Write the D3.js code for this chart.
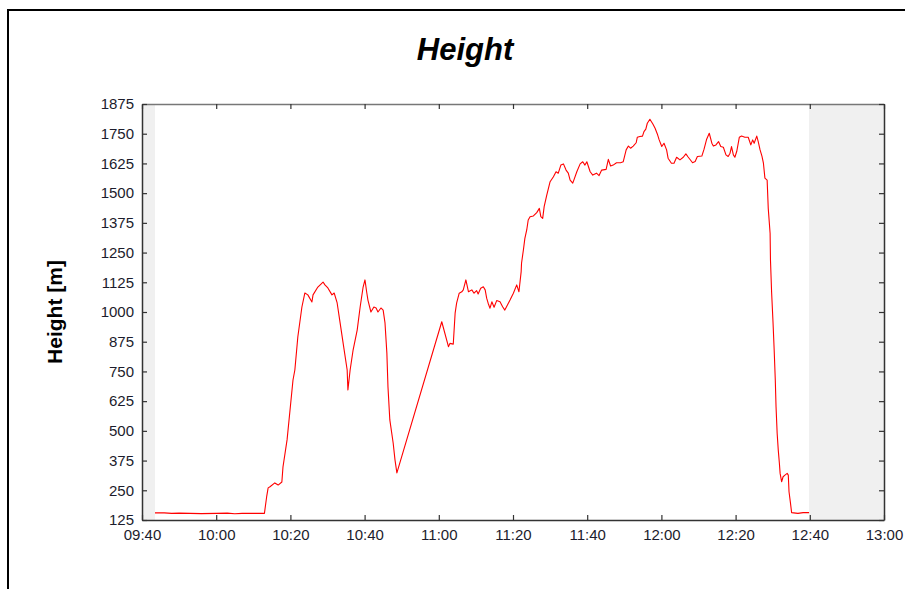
<!DOCTYPE html>
<html>
<head>
<meta charset="utf-8">
<script src="https://cdn.jsdelivr.net/npm/d3@7"></script>
<style>
  html, body { margin: 0; padding: 0; background: #fff; }
  svg { display: block; font-family: "Liberation Sans", Arial, sans-serif; }
</style>
</head>
<body>
<svg id="chart" width="905" height="589"></svg>
<script>
// Recorded altitude track: clock time and height in metres
const times = [
  "09:43:30","09:46:00","09:48:00","09:50:00","09:53:00","09:56:00","10:00:00","10:03:00","10:05:00","10:07:00",
  "10:10:00","10:13:00","10:13:36","10:14:00","10:14:30","10:15:48","10:16:42","10:17:42","10:18:00","10:19:06",
  "10:19:54","10:20:42","10:21:12","10:22:00","10:23:06","10:23:54","10:24:42","10:25:48","10:26:06","10:27:24",
  "10:28:48","10:29:18","10:30:06","10:31:12","10:31:48","10:32:36","10:33:24","10:34:12","10:35:18","10:35:30",
  "10:36:06","10:36:54","10:38:00","10:38:48","10:39:36","10:40:06","10:40:36","10:40:54","10:41:42","10:42:30",
  "10:43:06","10:43:36","10:44:24","10:45:00","10:45:30","10:46:00","10:46:18","10:46:48","10:47:42","10:48:12",
  "10:48:42","11:00:48","11:02:36","11:03:00","11:03:54","11:04:24","11:04:48","11:05:30","11:06:12","11:06:36",
  "11:07:18","11:08:00","11:08:54","11:09:30","11:10:12","11:10:36","11:11:18","11:12:00","11:12:30","11:12:54",
  "11:13:18","11:13:48","11:14:18","11:14:54","11:15:36","11:16:30","11:17:12","11:17:48","11:18:30","11:19:12",
  "11:20:06","11:21:00","11:21:36","11:22:12","11:22:18","11:22:48","11:23:12","11:23:42","11:24:06","11:24:36",
  "11:25:30","11:26:24","11:27:06","11:27:30","11:28:00","11:28:24","11:29:06","11:30:00","11:30:54","11:31:36",
  "11:32:12","11:32:54","11:33:36","11:34:18","11:34:54","11:35:24","11:36:06","11:36:24","11:37:12","11:38:06",
  "11:38:48","11:39:24","11:39:54","11:40:48","11:41:30","11:42:30","11:43:12","11:43:54","11:45:06","11:45:42",
  "11:46:18","11:47:00","11:47:54","11:49:00","11:49:42","11:50:30","11:51:06","11:51:42","11:52:24","11:53:12",
  "11:53:30","11:54:12","11:54:54","11:55:18","11:55:48","11:56:12","11:56:54","11:57:42","11:58:18","11:58:54",
  "11:59:24","12:00:06","12:00:42","12:01:24","12:01:48","12:02:42","12:03:24","12:04:06","12:05:00","12:05:54",
  "12:06:36","12:07:12","12:08:24","12:09:06","12:09:42","12:10:54","12:11:30","12:12:12","12:12:54","12:13:36",
  "12:14:00","12:14:42","12:15:24","12:16:00","12:16:42","12:17:24","12:18:00","12:18:30","12:18:54","12:19:24",
  "12:19:48","12:20:18","12:21:00","12:21:36","12:22:30","12:23:24","12:24:06","12:24:36","12:25:00","12:25:42",
  "12:26:06","12:26:36","12:27:06","12:27:30","12:27:54","12:28:30","12:28:48","12:29:18","12:29:24","12:29:42",
  "12:30:06","12:30:24","12:30:42","12:30:54","12:31:12","12:31:30","12:31:48","12:32:00","12:32:24","12:32:48",
  "12:33:18","12:33:54","12:34:12","12:34:24","12:34:48","12:35:06","12:36:48","12:38:12","12:39:48"
];
const heights = [
  155,155,153,154,153,152,153,154,151,153,
  153,153,223,260,265,281,272,285,348,462,
  588,714,756,895,1021,1080,1072,1042,1072,1105,
  1126,1114,1101,1072,1080,1038,954,870,756,672,
  756,840,924,1021,1105,1135,1080,1050,1000,1021,
  1017,1000,1017,1008,954,828,685,546,449,377,
  323,959,854,868,865,995,1037,1079,1085,1093,
  1135,1085,1093,1079,1090,1076,1100,1106,1093,1058,
  1037,1016,1043,1020,1048,1043,1022,1008,1029,1050,
  1079,1114,1085,1170,1205,1261,1310,1345,1387,1401,
  1404,1418,1436,1401,1394,1443,1492,1548,1569,1590,
  1584,1618,1623,1597,1584,1555,1542,1555,1590,1623,
  1632,1618,1632,1590,1576,1584,1574,1597,1600,1642,
  1614,1618,1628,1628,1632,1682,1698,1689,1698,1712,
  1735,1738,1740,1759,1769,1794,1811,1791,1773,1749,
  1724,1696,1710,1682,1647,1626,1626,1651,1640,1651,
  1665,1652,1628,1633,1654,1656,1685,1727,1752,1710,
  1698,1703,1717,1696,1693,1661,1654,1668,1696,1661,
  1651,1675,1735,1740,1735,1735,1703,1724,1710,1740,
  1717,1682,1656,1626,1563,1555,1436,1331,1219,1085,
  952,839,713,601,490,419,364,321,286,307,
  314,321,314,244,195,156,153,156,156
];

// Axis setup
const timeStart = "09:40:00";
const timeEnd = "13:00:00";
const xTickStepMinutes = 20;
const yTicks = [125,250,375,500,625,750,875,1000,1125,1250,1375,1500,1625,1750,1875];
const titleText = "Height";
const yAxisLabel = "Height [m]";

const parseTime = d3.timeParse("%H:%M:%S");
const data = times.map((t, i) => ({ t: parseTime(t), h: heights[i] }));

const svg = d3.select("#chart");
const W = 905, H = 589;
const plot = { left: 142, right: 884, top: 104, bottom: 520 };

svg.append("rect").attr("width", W).attr("height", H).attr("fill", "#fff");

// outer frame
svg.append("path")
  .attr("d", `M8,${H} V10 H${W}`)
  .attr("fill", "none").attr("stroke", "#000").attr("stroke-width", 2);

const x = d3.scaleTime()
  .domain([parseTime(timeStart), parseTime(timeEnd)])
  .range([plot.left, plot.right]);
const y = d3.scaleLinear()
  .domain([yTicks[0], yTicks[yTicks.length - 1]])
  .range([plot.bottom, plot.top]);

// plot background: grey outside the recorded span, white inside
svg.append("rect")
  .attr("x", plot.left).attr("y", plot.top)
  .attr("width", plot.right - plot.left).attr("height", plot.bottom - plot.top)
  .attr("fill", "#f0f0f0");
const tExtent = d3.extent(data, d => d.t);
svg.append("rect")
  .attr("x", x(tExtent[0])).attr("y", plot.top)
  .attr("width", x(tExtent[1]) - x(tExtent[0])).attr("height", plot.bottom - plot.top)
  .attr("fill", "#fff");

// height trace
const line = d3.line().x(d => x(d.t)).y(d => y(d.h));
svg.append("path")
  .datum(data)
  .attr("d", line)
  .attr("fill", "none")
  .attr("stroke", "#ff0000")
  .attr("stroke-width", 1.1)
  .attr("stroke-linejoin", "round");

const xTicks = d3.timeMinute.every(xTickStepMinutes).range(x.domain()[0], d3.timeMinute.offset(x.domain()[1], 1));
const fmt = d3.timeFormat("%H:%M");

// axes with inward ticks
const axisBottomG = svg.append("g").attr("transform", `translate(0,${plot.bottom})`)
  .call(d3.axisBottom(x).tickValues(xTicks).tickFormat(fmt).tickSizeInner(-5).tickSizeOuter(0).tickPadding(9));
const axisTopG = svg.append("g").attr("transform", `translate(0,${plot.top})`)
  .call(d3.axisTop(x).tickValues(xTicks).tickFormat("").tickSizeInner(-5).tickSizeOuter(0));
const axisLeftG = svg.append("g").attr("transform", `translate(${plot.left},0)`)
  .call(d3.axisLeft(y).tickValues(yTicks).tickFormat(d3.format("d")).tickSizeInner(-5).tickSizeOuter(0).tickPadding(8));
const axisRightG = svg.append("g").attr("transform", `translate(${plot.right},0)`)
  .call(d3.axisRight(y).tickValues(yTicks).tickFormat("").tickSizeInner(-5).tickSizeOuter(0));

[axisBottomG, axisTopG, axisLeftG, axisRightG].forEach(g => {
  g.select(".domain").attr("stroke", "#333").attr("stroke-width", 1.5);
  g.selectAll(".tick line").attr("stroke", "#333").attr("stroke-width", 1.2);
  g.selectAll("text").attr("fill", "#1c1c2c").attr("font-size", 15)
    .attr("font-family", "'Liberation Sans', Arial, sans-serif");
});
axisTopG.select(".domain").attr("stroke", "#777");

// title
svg.append("text")
  .attr("x", 465).attr("y", 60)
  .attr("text-anchor", "middle")
  .attr("font-size", 31).attr("font-weight", "bold").attr("font-style", "italic")
  .attr("fill", "#000")
  .text(titleText);

// y-axis label
svg.append("text")
  .attr("transform", `translate(62,${(plot.top + plot.bottom) / 2}) rotate(-90)`)
  .attr("text-anchor", "middle")
  .attr("font-size", 21).attr("font-weight", "bold")
  .attr("fill", "#000")
  .text(yAxisLabel);
</script>
</body>
</html>
